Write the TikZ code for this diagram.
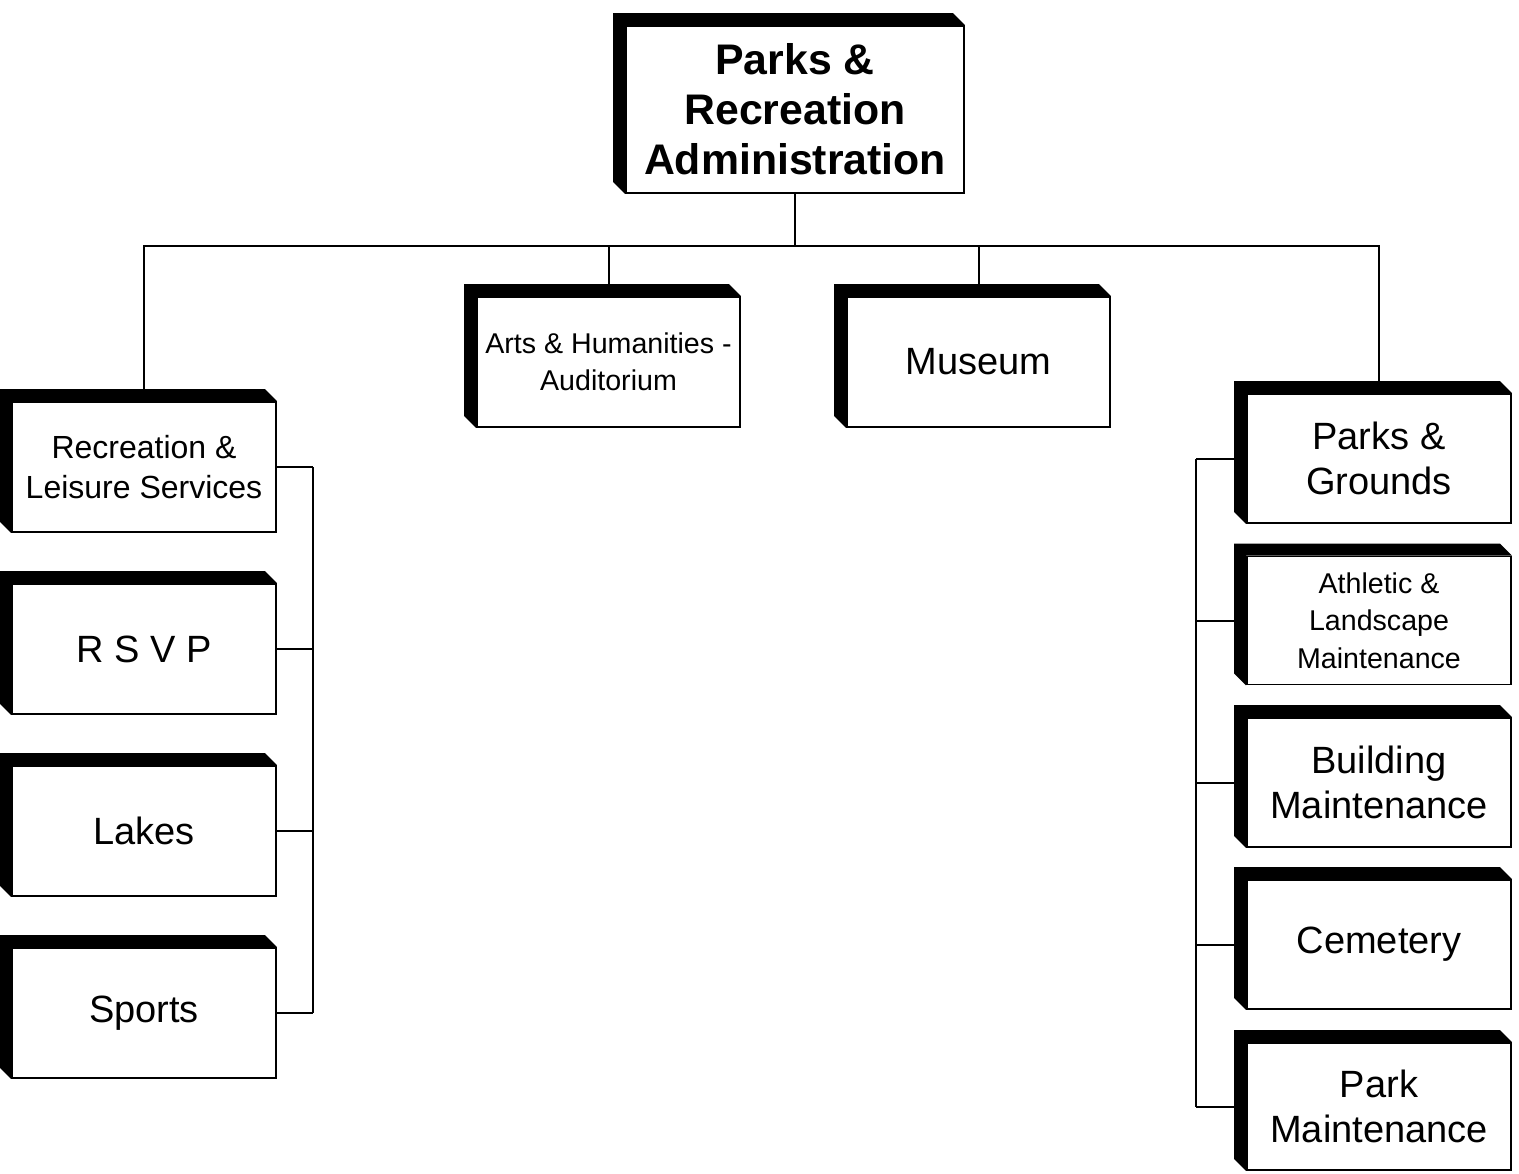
\documentclass[tikz,border=0pt]{standalone}
\usepackage{fontspec}
\setmainfont{Liberation Sans}
\usetikzlibrary{positioning}

\tikzset{
  orgbox/.style={draw, line width=0.9pt, fill=white, align=center, inner sep=0pt,
    minimum width=132pt, minimum height=65pt, font=\fontsize{19}{22.5}\selectfont},
  headbox/.style={orgbox, minimum width=169pt, minimum height=83.5pt,
    font=\fontsize{21.4}{25}\selectfont\bfseries},
  smallbox/.style={orgbox, font=\fontsize{16}{20}\selectfont},
  tinybox/.style={orgbox, font=\fontsize{14.3}{18.75}\selectfont},
  wire/.style={draw, line width=1pt},
}

\begin{document}
\begin{tikzpicture}[x=0.5pt,y=-0.5pt,node distance=91pt,on grid]
   \useasboundingbox (0,0) rectangle (1519,1173);
   % top level
   \node [headbox] (admin) at (795,109.5) {Parks \&\\Recreation\\Administration};
   \node [tinybox, minimum width=131.5pt] (arts) at (608.5,362) {Arts \& Humanities -\\Auditorium};
   \node [orgbox, minimum width=131.5pt] (museum) at (978.5,362) {Museum};
   % left column
   \node [smallbox] (rec) at (144,467) {Recreation \&\\Leisure Services};
   \node [orgbox, below=of rec] (rsvp) {R S V P};
   \node [orgbox, below=of rsvp] (lakes) {Lakes};
   \node [orgbox, below=of lakes] (sports) {Sports};
   % right column
   \node [orgbox, minimum height=64.5pt] (grounds) at (1379,458.5) {Parks \&\\Grounds};
   \node [tinybox, minimum height=64pt, below=81pt of grounds] (athletic) {Athletic \&\\Landscape\\Maintenance};
   \node [orgbox, minimum height=64.5pt, below=81pt of athletic] (building) {Building\\Maintenance};
   \node [orgbox, minimum height=64.5pt, below=81pt of building] (cemetery) {Cemetery};
   \node [orgbox, minimum height=63.5pt, below=81pt of cemetery] (parkmaint) {Park\\Maintenance};

   \coordinate (bus) at (795,246);
   \coordinate (lspine) at (313,0);
   \coordinate (rspine) at (1196,0);

   % connectors
   \path[wire] (admin.south) -- (admin.south |- bus);
   \path[wire] (rec.north) |- (grounds.north |- bus) -- (grounds.north);
   \path[wire] (arts.north) -- (arts.north |- bus);
   \path[wire] (museum.north) -- (museum.north |- bus);
   \path[wire] (rec.east -| lspine) -- (sports.east -| lspine);
   \foreach \n in {rec,rsvp,lakes,sports}
      \path[wire] (\n.east) -- (\n.east -| lspine);
   \path[wire] (grounds.west -| rspine) -- (parkmaint.west -| rspine);
   \foreach \n in {grounds,athletic,building,cemetery,parkmaint}
      \path[wire] (\n.west) -- (\n.west -| rspine);

   % raised edges
   \foreach \n in {admin,arts,museum,rec,rsvp,lakes,sports,grounds,athletic,building,cemetery,parkmaint}
      \fill (\n.south west) -- ([shift={(-6pt,6pt)}]\n.south west)
         -- ([shift={(-6pt,6pt)}]\n.north west) -- ([shift={(-6pt,6pt)}]\n.north east)
         -- (\n.north east) -- (\n.north west) -- cycle;
\end{tikzpicture}
\end{document}
